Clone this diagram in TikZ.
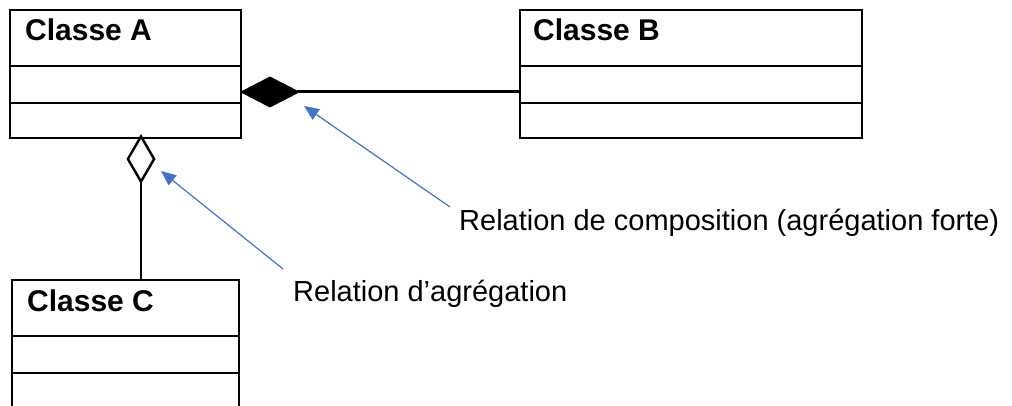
\documentclass[tikz,border=0pt]{standalone}
\usepackage{fontspec}
\setmainfont{Liberation Sans}
\usetikzlibrary{arrows.meta,calc}
\definecolor{pointerblue}{HTML}{4472C4}
\tikzset{
  classbox/.style={draw=black, line width=2pt, fill=white, anchor=north west,
    inner sep=0pt, outer sep=0pt},
  classname/.style={anchor=base west, inner sep=0pt,
    font=\bfseries\fontsize{30}{36}\selectfont},
  divider/.style={draw=black, line width=2pt},
  composition/.style={line width=3pt, {Diamond[length=60pt,width=31pt,line width=0pt]}-},
  aggregation/.style={line width=1.1pt, {Diamond[open,length=50pt,width=29pt,line width=2.4pt]}-},
  pointer/.style={draw=pointerblue, line width=1.2pt,
    -{Triangle[length=15pt,width=13pt,line width=0pt]}},
  note/.style={anchor=base west, inner sep=0pt, font=\fontsize{29}{35}\selectfont}
}
\begin{document}
\begin{tikzpicture}[x=1pt,y=-1pt]
  \clip (0,0) rectangle (1012,406);
  \fill[white] (0,0) rectangle (1012,406);

  % class boxes
  \node[classbox, minimum width=231pt, minimum height=128pt] (A) at (10,10) {};
  \node[classbox, minimum width=342pt, minimum height=128pt] (B) at (520,10) {};
  \node[classbox, minimum width=227pt, minimum height=160pt] (C) at (12,280) {};

  % compartments
  \foreach \cls in {A,B,C} {
    \draw[divider] ($(\cls.north west)+(0,56)$) -- ($(\cls.north east)+(0,56)$);
    \draw[divider] ($(\cls.north west)+(0,93)$) -- ($(\cls.north east)+(0,93)$);
  }

  % class names
  \node[classname] (nameA) at (25,41) {Classe A};
  \node[classname] (nameB) at (533,41) {Classe B};
  \node[classname] (nameC) at (27,311) {Classe C};

  % relations
  \draw[composition] ($(A.north east)+(-1,82)$) -- ($(B.north west)+(0,82)$);
  \draw[aggregation] ($(A.south west)+(131,-4)$) -- ($(C.north west)+(129,0)$);

  % annotations
  \coordinate (comptip) at (304,106);
  \coordinate (aggtip) at (161,171);
  \node[note] (lblcomp) at (459,231) {Relation de composition (agrégation forte)};
  \node[note] (lblagg) at (293,301) {Relation d’agrégation};
  \draw[pointer] ($(lblcomp.base west)+(-9,-24)$) -- (comptip);
  \draw[pointer] ($(lblagg.base west)+(-10,-32)$) -- (aggtip);
\end{tikzpicture}
\end{document}
